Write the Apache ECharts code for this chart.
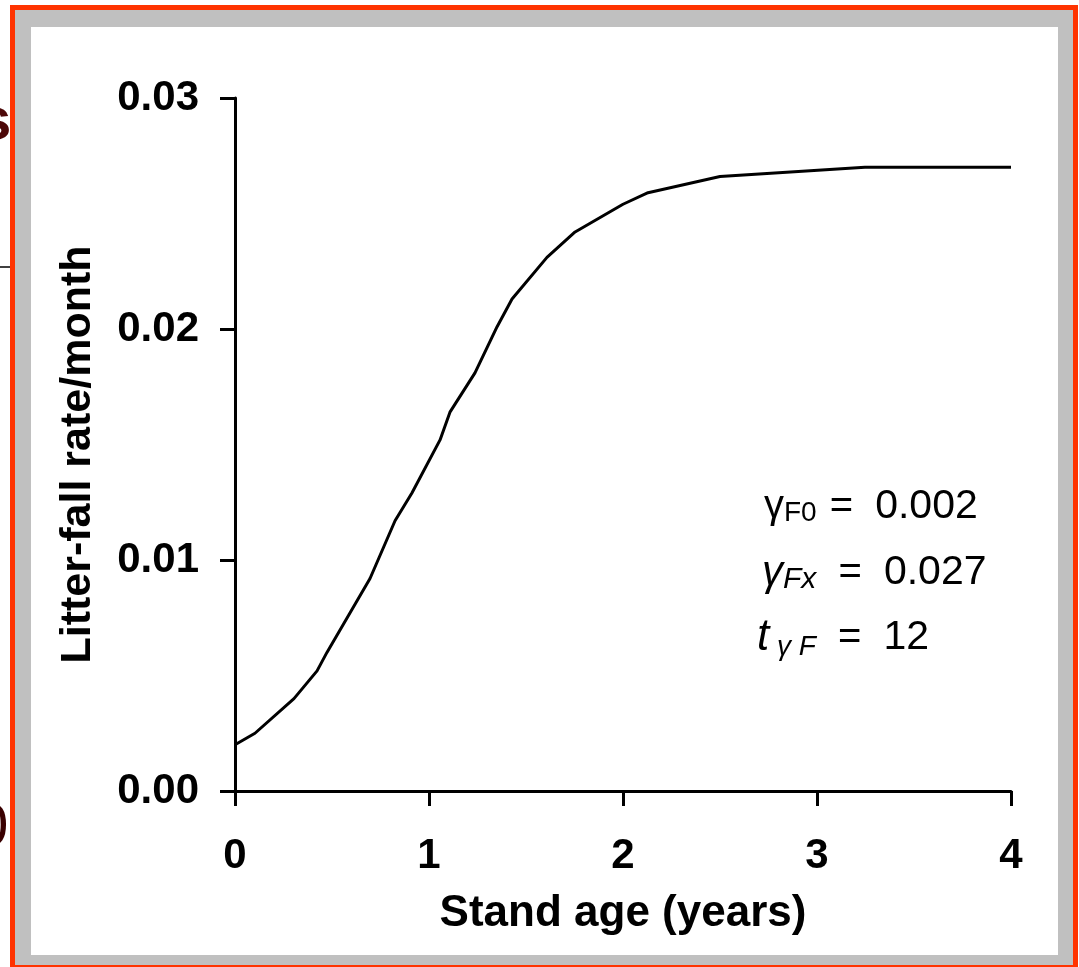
<!DOCTYPE html>
<html>
<head>
<meta charset="utf-8">
<script src="https://cdn.jsdelivr.net/npm/echarts@6/dist/echarts.min.js"></script>
<style>
  html, body { margin: 0; padding: 0; background: #fff; }
  #chart { width: 1079px; height: 967px; }
</style>
</head>
<body>
<div id="chart"></div>
<script>
// stand age (years) and litter-fall rate per month
const standAge = [0, 0.103, 0.304, 0.423, 0.474, 0.696, 0.825, 0.912, 1.057, 1.108,
  1.237, 1.351, 1.428, 1.608, 1.753, 2.0, 2.129, 2.5, 3.247, 4];
const litterRate = [0.0020, 0.0025, 0.0040, 0.0052, 0.0060, 0.0092, 0.0117, 0.0129, 0.0152, 0.0164,
  0.0181, 0.0201, 0.0213, 0.0231, 0.0242, 0.0254, 0.0259, 0.0266, 0.0270, 0.0270];
const xTicks = [0, 1, 2, 3, 4];
const yTicks = [0, 0.01, 0.02, 0.03];

const FONT = "'Liberation Sans', Arial, sans-serif";
const chart = echarts.init(document.getElementById("chart"));

chart.setOption({
  animation: false,
  backgroundColor: "#fff",
  grid: { left: 235, top: 98, right: 68, bottom: 176 },
  graphic: [
    // frame: orange outer edge, grey band, white inside
    { type: "rect", z: -10, shape: { x: 10, y: 5, width: 1068, height: 975 }, style: { fill: "#ff3300" } },
    { type: "rect", z: -9, shape: { x: 15, y: 10, width: 1058, height: 955 }, style: { fill: "#c0c0c0" } },
    { type: "rect", z: -8, shape: { x: 31, y: 27, width: 1027, height: 928 }, style: { fill: "#fff" } },
    // bits of the neighbouring slide showing at the left edge
    { type: "text", left: -22, top: 92, style: { text: "s", font: "bold 60px " + FONT, fill: "#4d0808" } },
    { type: "line", shape: { x1: 0, y1: 267, x2: 10, y2: 267 }, style: { stroke: "#000", lineWidth: 1.5 } },
    { type: "text", left: -25, top: 798, style: { text: "0", font: "60px " + FONT, fill: "#3a0000" } },
    // parameter notes
    {
      type: "text", left: 764, top: 486,
      style: {
        text: "{g|γ}{s|F0}{n| =}{v|0.002}",
        rich: {
          g: { font: "40px " + FONT, fill: "#000" },
          s: { font: "28px " + FONT, fill: "#000", padding: [14, 2, 0, 0] },
          n: { font: "40px " + FONT, fill: "#000" },
          v: { font: "41px " + FONT, fill: "#000", padding: [0, 0, 0, 22] }
        }
      }
    },
    {
      type: "text", left: 762, top: 552,
      style: {
        text: "{g|γ}{s|Fx}{n|  =}{v|0.027}",
        rich: {
          g: { font: "italic 42px " + FONT, fill: "#000" },
          s: { font: "italic 30px " + FONT, fill: "#000", padding: [14, 0, 0, 0] },
          n: { font: "40px " + FONT, fill: "#000" },
          v: { font: "41px " + FONT, fill: "#000", padding: [0, 0, 0, 22] }
        }
      }
    },
    {
      type: "text", left: 757, top: 616,
      style: {
        text: "{t|t}{s| γ F}{n|  =}{v|12}",
        rich: {
          t: { font: "italic 44px " + FONT, fill: "#000" },
          s: { font: "italic 28px " + FONT, fill: "#000", padding: [18, 0, 0, 0] },
          n: { font: "40px " + FONT, fill: "#000" },
          v: { font: "41px " + FONT, fill: "#000", padding: [0, 0, 0, 22] }
        }
      }
    }
  ],
  xAxis: {
    type: "value",
    min: xTicks[0],
    max: xTicks[xTicks.length - 1],
    interval: 1,
    name: "Stand age (years)",
    nameLocation: "middle",
    nameGap: 101,
    nameTextStyle: { fontFamily: FONT, fontWeight: "bold", fontSize: 44, color: "#000" },
    axisLine: { lineStyle: { color: "#000", width: 3 } },
    axisTick: { length: 15, lineStyle: { color: "#000", width: 3 } },
    axisLabel: { margin: 44, fontFamily: FONT, fontWeight: "bold", fontSize: 42, color: "#000" },
    splitLine: { show: false }
  },
  yAxis: {
    type: "value",
    min: yTicks[0],
    max: yTicks[yTicks.length - 1],
    interval: 0.01,
    name: "Litter-fall rate/month",
    nameLocation: "middle",
    nameRotate: 90,
    nameGap: 135,
    nameTextStyle: {
      fontFamily: FONT, fontWeight: "bold", fontSize: 43, color: "#000",
      padding: [0, 20, 0, 0]
    },
    axisLine: { show: true, lineStyle: { color: "#000", width: 3 } },
    axisTick: { show: true, length: 15, lineStyle: { color: "#000", width: 3 } },
    axisLabel: {
      margin: 36, fontFamily: FONT, fontWeight: "bold", fontSize: 42, color: "#000",
      padding: [6, 0, 0, 0],
      formatter: (v) => v.toFixed(2)
    },
    splitLine: { show: false }
  },
  series: [{
    type: "line",
    data: standAge.map((x, i) => [x, litterRate[i]]),
    showSymbol: false,
    lineStyle: { color: "#000", width: 3 },
    z: 3
  }]
});
</script>
</body>
</html>
